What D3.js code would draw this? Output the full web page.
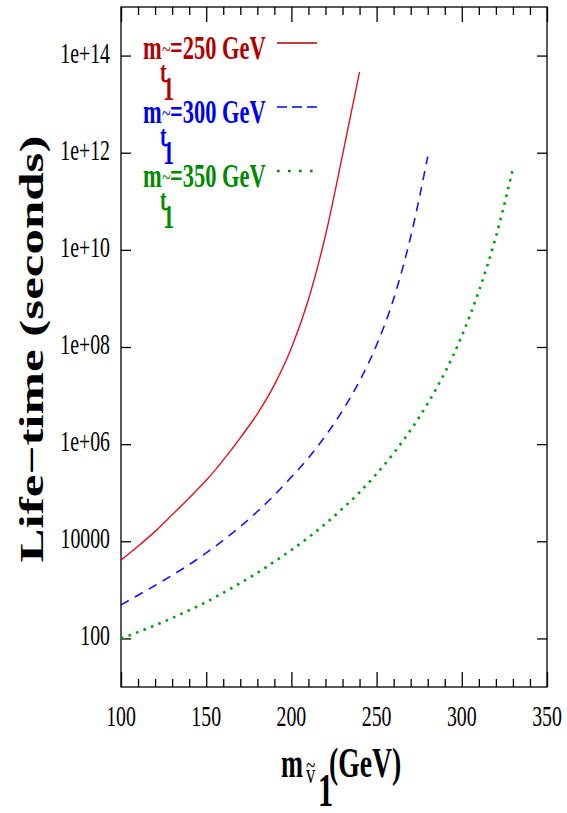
<!DOCTYPE html>
<html>
<head>
<meta charset="utf-8">
<script src="https://cdn.jsdelivr.net/npm/d3@7"></script>
<style>
  body { margin: 0; background: #fff; }
  svg { display: block; }
  text { font-family: "Liberation Serif", "Times New Roman", serif; }
</style>
</head>
<body>
<div id="chart"></div>
<script>
// masses of the sneutrino (GeV) and lifetimes (seconds)
var mass250 = [100, 110, 120, 130, 140, 150, 160, 170, 180, 190, 200, 210, 220, 230, 240];
var life250 = [4.1e3, 7.9e3, 1.6e4, 3.5e4, 7.8e4, 1.8e5, 4.7e5, 1.35e6, 4.2e6, 1.66e7, 9.5e7, 9.5e8, 2.0e10, 8.9e11, 4.6e13];

var mass300 = [100, 110, 120, 130, 140, 150, 160, 170, 180, 190, 200, 210, 220, 230, 240, 250, 260, 270, 280];
var life300 = [490, 776, 1.23e3, 2.0e3, 3.3e3, 5.75e3, 1.05e4, 2.0e4, 4.1e4, 8.9e4, 2.1e5, 5.2e5, 1.48e6, 4.9e6, 2.0e7, 1.1e8, 9.8e8, 1.86e10, 8.3e11];

var mass350 = [100, 110, 120, 130, 140, 150, 160, 170, 180, 190, 200, 210, 220, 230, 240, 250, 260, 270, 280, 290, 300, 310, 320, 330];
var life350 = [100, 135, 186, 263, 380, 562, 871, 1.38e3, 2.24e3, 3.8e3, 6.6e3, 1.2e4, 2.3e4, 4.7e4, 1.02e5, 2.45e5, 6.5e5, 1.95e6, 6.9e6, 2.95e7, 1.7e8, 1.41e9, 1.86e10, 4.7e11];

var stopMasses = ["250", "300", "350"];

var xTickValues = [100, 150, 200, 250, 300, 350];
var xTickLabels = ["100", "150", "200", "250", "300", "350"];
var yTickValues = [1e2, 1e4, 1e6, 1e8, 1e10, 1e12, 1e14];
var yTickLabels = ["100", "10000", "1e+06", "1e+08", "1e+10", "1e+12", "1e+14"];

function init(){
	var w = 567;
	var h = 813;
	var left = 121, right = 547, top = 7, bottom = 687;
	var sx = 0.66;   // the whole figure is squeezed sideways

	var svg = d3.select("#chart")
				.append("svg")
				.attr("width", w)
				.attr("height", h);

	var xScale = d3.scaleLinear()
					.domain([100, 350])
					.range([left, right]);

	var yScale = d3.scaleLog()
					.domain([10, 1e15])
					.range([bottom, top]);

	// frame
	svg.append("rect")
		.attr("x", left)
		.attr("y", top)
		.attr("width", right - left)
		.attr("height", bottom - top)
		.attr("fill", "none")
		.attr("stroke", "#000")
		.attr("stroke-width", 1.3);

	// x ticks (inward, major + minor, mirrored on top)
	var minor = xScale.ticks(25).filter(function(d){ return xTickValues.indexOf(d) < 0; });
	var bottomAxis = d3.axisBottom(xScale).tickValues(minor).tickSize(-8).tickFormat("");
	var bottomMajor = d3.axisBottom(xScale).tickValues(xTickValues).tickSize(-15).tickFormat("");
	var topAxis = d3.axisTop(xScale).tickValues(minor).tickSize(-8).tickFormat("");
	var topMajor = d3.axisTop(xScale).tickValues(xTickValues).tickSize(-15).tickFormat("");
	[[bottomAxis, bottom], [bottomMajor, bottom], [topAxis, top], [topMajor, top]].forEach(function(a){
		var g = svg.append("g").attr("transform", "translate(0," + a[1] + ")").call(a[0]);
		g.select(".domain").remove();
		g.selectAll("line").attr("stroke", "#000").attr("stroke-width", 1.3);
	});

	// y ticks
	var leftAxis = d3.axisLeft(yScale).tickValues(yTickValues).tickSize(-10).tickFormat("");
	var rightAxis = d3.axisRight(yScale).tickValues(yTickValues).tickSize(-10).tickFormat("");
	[[leftAxis, left], [rightAxis, right]].forEach(function(a){
		var g = svg.append("g").attr("transform", "translate(" + a[1] + ",0)").call(a[0]);
		g.select(".domain").remove();
		g.selectAll("line").attr("stroke", "#000").attr("stroke-width", 1.3);
	});

	// tick labels
	svg.selectAll("text.xlab")
		.data(xTickValues)
		.enter()
		.append("text")
		.attr("class", "xlab")
		.attr("transform", function(d){ return "translate(" + xScale(d) + ",726) scale(" + sx + ",1)"; })
		.attr("text-anchor", "middle")
		.attr("font-size", 30)
		.text(function(d, i){ return xTickLabels[i]; });

	svg.selectAll("text.ylab")
		.data(yTickValues)
		.enter()
		.append("text")
		.attr("class", "ylab")
		.attr("transform", function(d){ return "translate(110," + (yScale(d) + 7) + ") scale(" + sx + ",1)"; })
		.attr("text-anchor", "end")
		.attr("font-size", 30)
		.text(function(d, i){ return yTickLabels[i]; });

	// axis titles
	svg.append("text")
		.attr("transform", "translate(43,349) scale(" + sx + ",1) rotate(-90)")
		.attr("text-anchor", "middle")
		.attr("font-size", 51)
		.attr("font-weight", "bold")
		.text("Life\u2212time (seconds)");

	var xt = svg.append("g").attr("font-weight", "bold");
	xt.append("text").attr("transform", "translate(281,777) scale(" + sx + ",1)").attr("font-size", 40).text("m");
	xt.append("text").attr("transform", "translate(306,783) scale(" + sx + ",1)").attr("font-size", 28).attr("font-weight", "normal").text("v");
	xt.append("text").attr("transform", "translate(306,773) scale(" + sx + ",1)").attr("font-size", 26).attr("font-weight", "normal").text("~");
	xt.append("text").attr("transform", "translate(318,806) scale(" + sx + ",1)").attr("font-size", 46).text("1");
	xt.append("text").attr("transform", "translate(329,777) scale(" + sx + ",1)").attr("font-size", 42).text("(GeV)");

	// curves
	var line = d3.line()
				.x(function(d){ return xScale(d[0]); })
				.y(function(d){ return yScale(d[1]); })
				.curve(d3.curveMonotoneX);

	var series = [
		{m: mass250, t: life250, line: "#e0141c", text: "#b00000", width: 1.4, dash: null},
		{m: mass300, t: life300, line: "#1414ff", text: "#0000f0", width: 1.6, dash: "9,7"},
		{m: mass350, t: life350, line: "#00a010", text: "#008a00", width: 2.6, dash: "2.6,5.4"}
	];

	series.forEach(function(s, i){
		var pts = s.m.map(function(d, j){ return [d, s.t[j]]; });
		svg.append("path")
			.attr("d", line(pts))
			.attr("fill", "none")
			.attr("stroke", s.line)
			.attr("stroke-width", s.width)
			.attr("stroke-dasharray", s.dash);

		// legend
		var base = 59 + i * 64;
		var lg = svg.append("g").attr("fill", s.text).attr("font-weight", "bold");
		lg.append("text").attr("transform", "translate(143," + base + ") scale(" + sx + ",1)").attr("font-size", 34).text("m");
		lg.append("text").attr("transform", "translate(162," + (base - 2) + ") scale(" + sx + ",1)").attr("font-size", 24).attr("font-weight", "normal").text("~");
		lg.append("text").attr("transform", "translate(160," + (base + 23) + ") scale(" + sx + ",1)").attr("font-size", 30).text("t");
		lg.append("text").attr("transform", "translate(163," + (base + 41) + ") scale(" + sx + ",1)").attr("font-size", 34).text("1");
		lg.append("text").attr("transform", "translate(170," + base + ") scale(" + sx + ",1)").attr("font-size", 34).text("=" + stopMasses[i] + " GeV");
		svg.append("line")
			.attr("x1", 277).attr("x2", 317)
			.attr("y1", base - 16).attr("y2", base - 16)
			.attr("stroke", s.text)
			.attr("stroke-width", i == 2 ? 2.6 : 1.6)
			.attr("stroke-dasharray", i == 0 ? null : (i == 1 ? "10,5" : "2.6,8.4"));
	});
}

window.onload = init;
</script>
</body>
</html>
